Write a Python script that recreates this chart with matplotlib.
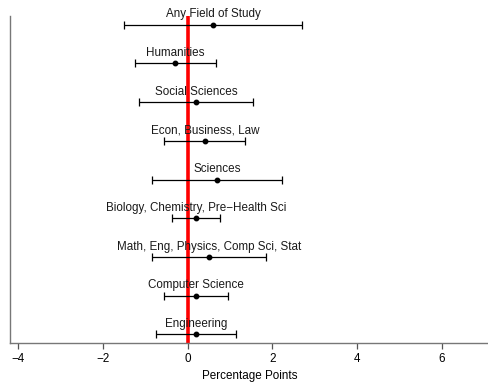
import matplotlib
matplotlib.use("Agg")
import matplotlib.pyplot as plt

plt.rcParams['font.family'] = ['Liberation Sans', 'DejaVu Sans']

fields = [
    "Any Field of Study",
    "Humanities",
    "Social Sciences",
    "Econ, Business, Law",
    "Sciences",
    "Biology, Chemistry, Pre\u2212Health Sci",
    "Math, Eng, Physics, Comp Sci, Stat",
    "Computer Science",
    "Engineering",
]
estimates = [0.60, -0.29, 0.20, 0.41, 0.70, 0.20, 0.51, 0.20, 0.20]
ci_low = [-1.50, -1.25, -1.14, -0.55, -0.83, -0.37, -0.83, -0.55, -0.75]
ci_high = [2.71, 0.66, 1.54, 1.36, 2.23, 0.77, 1.84, 0.96, 1.15]
xticks = [-4, -2, 0, 2, 4, 6]

FS = 8.4

fig = plt.figure(figsize=(4.89, 3.84), dpi=100)
ax = fig.add_axes([10 / 489, 1 - 343 / 384, 479 / 489, (343 - 16) / 384])

n = len(fields)
ypos = list(range(n, 0, -1))

ax.axvline(0, color="#ff0000", lw=2.6, zorder=1)

for y, est, lo, hi, name in zip(ypos, estimates, ci_low, ci_high, fields):
    ax.errorbar([est], [y], xerr=[[est - lo], [hi - est]], fmt="o", color="black",
                ms=3.2, lw=0.9, capsize=2.6, capthick=0.9, zorder=3)
    ax.text(est, y + 0.19, name, ha="center", va="baseline", fontsize=FS, color="#1a1a1a", zorder=4)

ax.set_xlim(-4.19, 7.11)
ax.set_ylim(0.78, 9.22)
ax.set_yticks([])
ax.set_xticks(xticks)
ax.set_xticklabels([f"{t}".replace("-", "\u2212") for t in xticks])
ax.tick_params(axis="x", length=4, width=0.9, color="#555555", labelsize=FS, pad=3)
ax.set_xlabel("Percentage Points", fontsize=FS, labelpad=4)

for side in ["top", "right"]:
    ax.spines[side].set_visible(False)
for side in ["left", "bottom"]:
    ax.spines[side].set_color("#777777")
    ax.spines[side].set_linewidth(1.0)

fig.savefig("out.png", dpi=100)
